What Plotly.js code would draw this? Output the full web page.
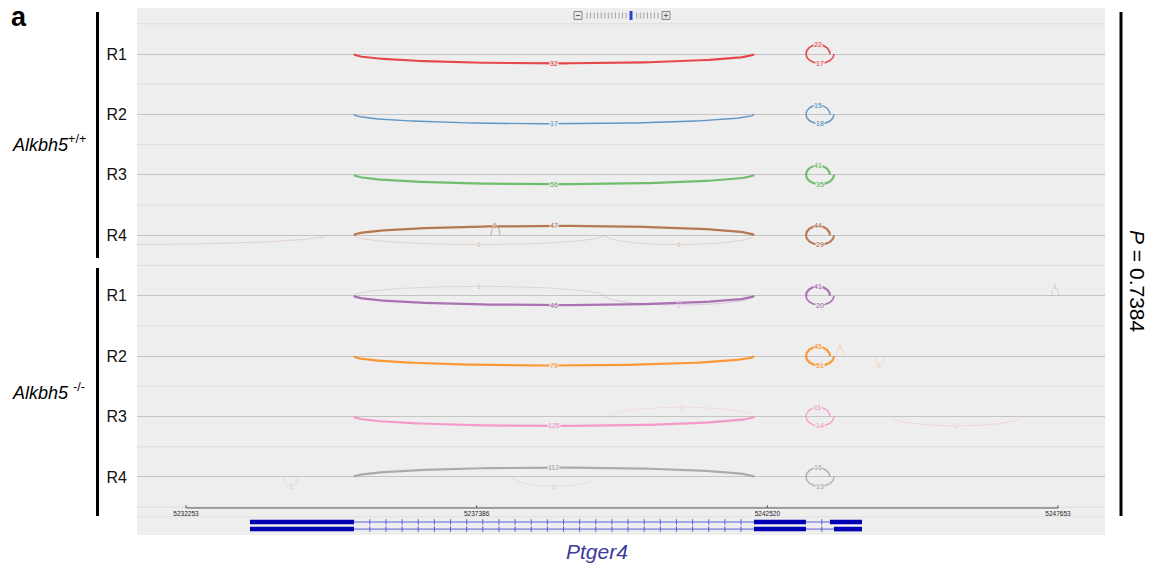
<!DOCTYPE html>
<html><head><meta charset="utf-8">
<script src="https://cdn.plot.ly/plotly-3.0.1.min.js"></script>
<style>body{margin:0;background:#fff}#chart{width:1154px;height:566px}</style>
</head><body><div id="chart"></div>
<script>
// ---------------- data ----------------
const trackNames = ['R1','R2','R3','R4','R1','R2','R3','R4'];
const groupNames = ['<i>Alkbh5</i><sup>+/+</sup>', '<i>Alkbh5</i> <sup>-/-</sup>'];
const pValueText = '<i>P</i> = 0.7384';
const geneName = 'Ptger4';
const axisTicks = [5232253, 5237386, 5242520, 5247653];

// junctions: track index, start, end, read count, side (+1 above, -1 below)
const juncTrack = [0,0,0, 1,1,1, 2,2,2, 3,3,3,3,3,3,3, 4,4,4,4,4,4, 5,5,5,5,5, 6,6,6,6,6, 7,7,7,7,7];
const juncStart = [5235220,5243202,5243202, 5235220,5243202,5243202, 5235220,5243202,5243202,
                   5235220,5243202,5243202,5237639,5235220,5239653,5227500,
                   5235220,5243202,5243202,5235220,5239653,5247540,
                   5235220,5243202,5243202,5243740,5244420,
                   5235220,5243202,5243202,5239741,5244721,
                   5235220,5243202,5243202,5233984,5238028];
const juncEnd   = [5242284,5243626,5243697, 5242284,5243626,5243697, 5242284,5243626,5243697,
                   5242284,5243626,5243697,5237798,5239635,5242284,5234725,
                   5242284,5243626,5243697,5239635,5242284,5247660,
                   5242284,5243626,5243697,5243860,5244580,
                   5242284,5243626,5243697,5242284,5247017,
                   5242284,5243626,5243697,5234231,5239494];
const juncCount = [32,22,17, 17,15,18, 56,41,35,
                   47,44,29,5,1,1,1,
                   46,41,20,1,2,1,
                   79,45,51,1,1,
                   125,11,14,1,2,
                   112,16,13,1,1];
const juncSide  = [-1,1,-1, -1,1,-1, -1,1,-1,
                   1,1,-1,1,-1,-1,-1,
                   -1,1,-1,1,-1,1,
                   -1,1,-1,1,-1,
                   -1,1,-1,1,-1,
                   1,1,-1,-1,-1];

// gene model (two transcripts)
const exonTx    = [0,0,0, 1,1,1];
const exonStart = [5233383,5242284,5243626, 5233383,5242284,5243697];
const exonEnd   = [5235220,5243202,5244191, 5235220,5243202,5244191];

// ---------------- styles / layout ----------------
const trackColors = ['#e41a1c','#377eb8','#4daf4a','#a65628','#984ea3','#ff7f00','#f781bf','#999999'];
const FONT = 'Liberation Sans, Arial, sans-serif';
const X0 = 5231388, X1 = 5248483;
const Ytop = -0.7612, Ybot = 7.960;
const depth = 0.155;
const axisY = 7.513, axisLabY = 7.615;
const txRows = [7.745, 7.862];
const L=137, R=1105, T=8, B=535;
const px = x => (x-L)/(R-L);
const py = y => (B-y)/(B-T);

const traces = [];
const annotations = [];
const shapes = [];

// separators between tracks
for (let i=0;i<=8;i++){
  shapes.push({type:'line', xref:'paper', yref:'y', x0:0, x1:1, y0:i-0.5, y1:i-0.5,
    line:{color:'#dcdcdc', width:1}, layer:'below'});
}
shapes.push({type:'line', xref:'paper', yref:'y', x0:0, x1:1, y0:7.66, y1:7.66, line:{color:'#e2e2e2', width:1}, layer:'below'});

// arcs (half-ellipses between junction ends)
for (let j=0;j<juncTrack.length;j++){
  const tr=juncTrack[j], s=juncStart[j], e=juncEnd[j], c=juncCount[j], side=juncSide[j];
  const xs=[], ys=[];
  for (let k=0;k<=120;k++){
    const th=Math.PI*k/120;
    xs.push(s+(e-s)*(1-Math.cos(th))/2);
    ys.push(tr - side*depth*Math.sin(th));
  }
  const op = c>=10 ? 0.78 : 0.14 + 0.07*c;
  const w = Math.min(2.2, 0.8 + c/25);
  traces.push({type:'scatter', mode:'lines', x:xs, y:ys, line:{color:trackColors[tr], width:w},
    opacity:op, hoverinfo:'skip', showlegend:false});
  const mx=(s+e)/2;
  if (mx>X0 && mx<X1){
    annotations.push({x:mx, y:tr - side*depth, xref:'x', yref:'y', text:String(c), showarrow:false,
      font:{size:7, color:trackColors[tr], family:FONT}, bgcolor:'#eeeeee', borderpad:0,
      opacity:Math.min(1, op+0.1)});
  }
}

// genomic axis
traces.push({type:'scatter', mode:'lines', x:[axisTicks[0], axisTicks[axisTicks.length-1]], y:[axisY, axisY],
  line:{color:'#555', width:1}, hoverinfo:'skip', showlegend:false});
const tx=[], ty=[];
axisTicks.forEach(t=>{tx.push(t,t,null); ty.push(axisY, axisY-0.045, null);});
traces.push({type:'scatter', mode:'lines', x:tx, y:ty, line:{color:'#555', width:1}, hoverinfo:'skip', showlegend:false});
traces.push({type:'scatter', mode:'text', x:axisTicks, y:axisTicks.map(()=>axisLabY), text:axisTicks.map(String),
  textfont:{size:6.5, color:'#222', family:FONT}, hoverinfo:'skip', showlegend:false});

// gene model
for (let t=0;t<2;t++){
  const idx = exonTx.map((v,i)=>v===t?i:-1).filter(i=>i>=0).sort((a,b)=>exonStart[a]-exonStart[b]);
  const row = txRows[t];
  for (let k=0;k<idx.length-1;k++){
    const a=exonEnd[idx[k]], b=exonStart[idx[k+1]];
    traces.push({type:'scatter', mode:'lines', x:[a,b], y:[row,row], line:{color:'#5a5ae0', width:1}, hoverinfo:'skip', showlegend:false});
    const mxs=[], mys=[];
    for (let p=a+280; p<b-100; p+=285){ mxs.push(p); mys.push(row); }
    traces.push({type:'scatter', mode:'markers', x:mxs, y:mys, marker:{symbol:'line-ns-open', size:4, color:'#5a5ae0', line:{width:1, color:'#5a5ae0'}}, hoverinfo:'skip', showlegend:false});
  }
  idx.forEach(i=>{
    shapes.push({type:'rect', xref:'x', yref:'y', x0:exonStart[i], x1:exonEnd[i], y0:row-0.038, y1:row+0.038,
      fillcolor:'#0000b4', line:{width:0}});
  });
}

// zoom widget at top
shapes.push({type:'rect', xref:'paper', yref:'paper', x0:px(574), x1:px(582), y0:py(19.5), y1:py(11.5), line:{color:'#888',width:1}, fillcolor:'#e6e6e6'});
shapes.push({type:'line', xref:'paper', yref:'paper', x0:px(576), x1:px(580), y0:py(15.5), y1:py(15.5), line:{color:'#666',width:1}});
shapes.push({type:'rect', xref:'paper', yref:'paper', x0:px(662), x1:px(670), y0:py(19.5), y1:py(11.5), line:{color:'#888',width:1}, fillcolor:'#e6e6e6'});
shapes.push({type:'line', xref:'paper', yref:'paper', x0:px(664), x1:px(668), y0:py(15.5), y1:py(15.5), line:{color:'#666',width:1}});
shapes.push({type:'line', xref:'paper', yref:'paper', x0:px(666), x1:px(666), y0:py(13.5), y1:py(17.5), line:{color:'#666',width:1}});
for (let i=0;i<21;i++){
  const x=587+i*3.55;
  if (x>628 && x<634) continue;
  shapes.push({type:'line', xref:'paper', yref:'paper', x0:px(x), x1:px(x), y0:py(12.5), y1:py(18.5), line:{color:'#a0a0a0',width:1}});
}
shapes.push({type:'rect', xref:'paper', yref:'paper', x0:px(629.5), x1:px(632.5), y0:py(20), y1:py(11), line:{width:0}, fillcolor:'#2a3fd6'});

// black group bars
shapes.push({type:'line', xref:'paper', yref:'paper', x0:px(97.5), x1:px(97.5), y0:py(12), y1:py(258), line:{color:'#000',width:3}});
shapes.push({type:'line', xref:'paper', yref:'paper', x0:px(97.5), x1:px(97.5), y0:py(268), y1:py(516), line:{color:'#000',width:3}});
shapes.push({type:'line', xref:'paper', yref:'paper', x0:px(1121), x1:px(1121), y0:py(12), y1:py(516), line:{color:'#000',width:3}});

// texts
annotations.push({xref:'paper', yref:'paper', x:px(9), y:py(17), text:'<b>a</b>', showarrow:false, xanchor:'left', yanchor:'middle',
  font:{size:27, family:FONT, color:'#000'}});
annotations.push({xref:'paper', yref:'paper', x:px(10), y:py(143), text:groupNames[0], showarrow:false, xanchor:'left', yanchor:'middle',
  font:{size:18, family:FONT, color:'#000'}});
annotations.push({xref:'paper', yref:'paper', x:px(10), y:py(391), text:groupNames[1], showarrow:false, xanchor:'left', yanchor:'middle',
  font:{size:18, family:FONT, color:'#000'}});
annotations.push({xref:'paper', yref:'paper', x:px(1138), y:py(281), text:pValueText, showarrow:false, textangle:90,
  xanchor:'center', yanchor:'middle', font:{size:21, family:FONT, color:'#000'}});
annotations.push({xref:'paper', yref:'paper', x:px(597), y:py(551), text:'<i>'+geneName+'</i>', showarrow:false,
  xanchor:'center', yanchor:'middle', font:{size:21, family:FONT, color:'#3b3b98'}});

const layout = {
  width:1154, height:566,
  margin:{l:L, r:1154-R, t:T, b:566-B, pad:0},
  paper_bgcolor:'#ffffff', plot_bgcolor:'#eeeeee',
  showlegend:false,
  xaxis:{range:[X0,X1], visible:false, fixedrange:true},
  yaxis:{range:[Ybot,Ytop], tickvals:trackNames.map((_,i)=>i), ticktext:trackNames, showgrid:true,
    gridcolor:'#c4c4c4', gridwidth:1, zeroline:false, showline:false, ticks:'', automargin:false,
    ticklabelstandoff:9, tickfont:{size:16, family:FONT, color:'#111'}, fixedrange:true},
  shapes:shapes, annotations:annotations
};
Plotly.newPlot('chart', traces, layout, {displayModeBar:false, staticPlot:true});
</script></body></html>
